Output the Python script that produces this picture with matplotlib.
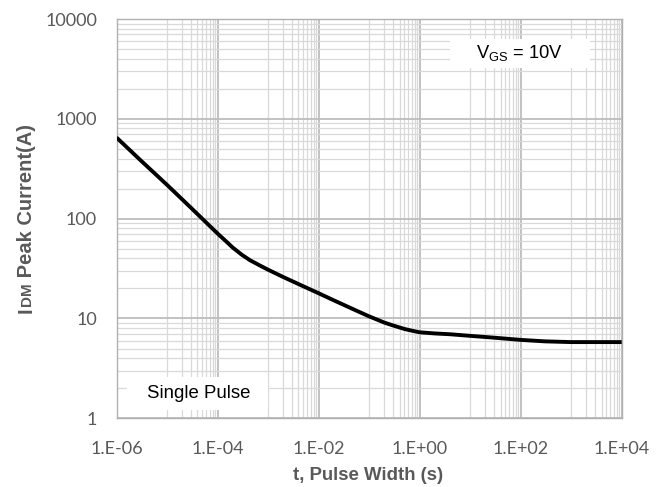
import numpy as np
import matplotlib
matplotlib.use("Agg")
import matplotlib.pyplot as plt
from matplotlib.ticker import FixedLocator, FixedFormatter, NullFormatter
from matplotlib.patches import Rectangle

# ---- data ----
pulse_width_s = [1e-6, 3e-6, 1e-5, 3e-5, 1e-4, 1.5e-4, 2e-4, 3e-4, 4.4e-4, 7e-4,
                 1e-3, 2e-3, 5e-3, 1e-2, 2e-2, 5e-2, 1e-1, 2e-1, 3e-1, 5e-1,
                 7e-1, 1, 2, 4, 10, 30, 100, 300, 1e3, 1e4]
idm_peak_a = [650, 384, 218, 128, 71, 58.8, 51.3, 43.6, 38.3, 33.8,
              30.8, 26, 21, 17.9, 15.2, 12.3, 10.5, 9.1, 8.5, 7.85,
              7.55, 7.27, 7.08, 6.95, 6.7, 6.42, 6.1, 5.9, 5.8, 5.8]

x_major = [1e-6, 1e-4, 1e-2, 1e0, 1e2, 1e4]
x_labels = ["1.E-06", "1.E-04", "1.E-02", "1.E+00", "1.E+02", "1.E+04"]
y_major = [1, 10, 100, 1000, 10000]
y_labels = ["1", "10", "100", "1000", "10000"]

W, H = 661, 487
fig = plt.figure(figsize=(W / 100, H / 100), dpi=100)
L, R, T, B = 116.5, 621.7, 19, 418.3
ax = fig.add_axes([L / W, 1 - B / H, (R - L) / W, (B - T) / H])

ax.set_xscale("log")
ax.set_yscale("log")
ax.set_xlim(1e-6, 1e4)
ax.set_ylim(1, 1e4)

# minor grid positions (Excel style, base 100 on x)
x_minor = [k * 10.0 ** e for e in range(-5, 4, 2) for k in range(1, 10)]
y_minor = [k * 10.0 ** e for e in range(0, 4) for k in range(2, 10)]

ax.xaxis.set_major_locator(FixedLocator(x_major))
ax.xaxis.set_major_formatter(FixedFormatter(x_labels))
ax.xaxis.set_minor_locator(FixedLocator(x_minor))
ax.xaxis.set_minor_formatter(NullFormatter())
ax.yaxis.set_major_locator(FixedLocator(y_major))
ax.yaxis.set_major_formatter(FixedFormatter(y_labels))
ax.yaxis.set_minor_locator(FixedLocator(y_minor))
ax.yaxis.set_minor_formatter(NullFormatter())

ax.grid(which="minor", color="#d9d9d9", linewidth=0.9)
ax.grid(which="major", color="#bdbdbd", linewidth=1.3)
ax.set_axisbelow(True)

for s in ax.spines.values():
    s.set_color("#b0b0b0")
    s.set_linewidth(1.0)

ax.tick_params(which="both", length=0)
ax.tick_params(axis="x", pad=16.5, labelsize=13, labelcolor="#595959")
ax.tick_params(axis="y", pad=14, labelsize=13, labelcolor="#595959")
for lab in ax.get_xticklabels() + ax.get_yticklabels():
    lab.set_fontfamily("Lato")

ax.plot(pulse_width_s, idm_peak_a, color="black", linewidth=2.8,
        solid_joinstyle="round", solid_capstyle="butt", zorder=3)

# text boxes
def fig_rect(x0, y0, x1, y1):
    return Rectangle((x0 / W, 1 - y1 / H), (x1 - x0) / W, (y1 - y0) / H,
                     transform=fig.transFigure, facecolor="white",
                     edgecolor="none", zorder=5)

fig.patches.append(fig_rect(450, 39, 590, 68))
fig.text(520 / W, 1 - 53 / H, r"V$_{\mathregular{GS}}$ = 10V", ha="center",
         va="center", fontsize=13.2, family="Liberation Sans", color="black",
         zorder=6)
fig.patches.append(fig_rect(127, 377, 268, 410))
fig.text(199 / W, 1 - 393 / H, "Single Pulse", ha="center", va="center",
         fontsize=13.4, family="Liberation Sans", color="black", zorder=6)

# axis titles
lab_col = "#595959"
fig.text(368 / W, 1 - 476 / H, "t, Pulse Width (s)", ha="center", va="center",
         fontsize=13.4, weight="bold", family="Liberation Sans", color=lab_col)

fig.canvas.draw()
rend = fig.canvas.get_renderer()
bx, by = 31.5, 313.0
parts = [("I", 14.5), ("DM", 11.0), (" Peak Current(A)", 14.5)]
ycur = by
for txt, fs in parts:
    t = fig.text(bx / W, 1 - ycur / H, txt, rotation=90, rotation_mode="anchor",
                 ha="left", va="baseline", fontsize=fs, weight="bold",
                 family="Liberation Sans", color=lab_col)
    bb = t.get_window_extent(rend)
    ycur -= bb.height + (1.0 if txt == "I" else 0.0)

fig.savefig("out.png", dpi=100)
